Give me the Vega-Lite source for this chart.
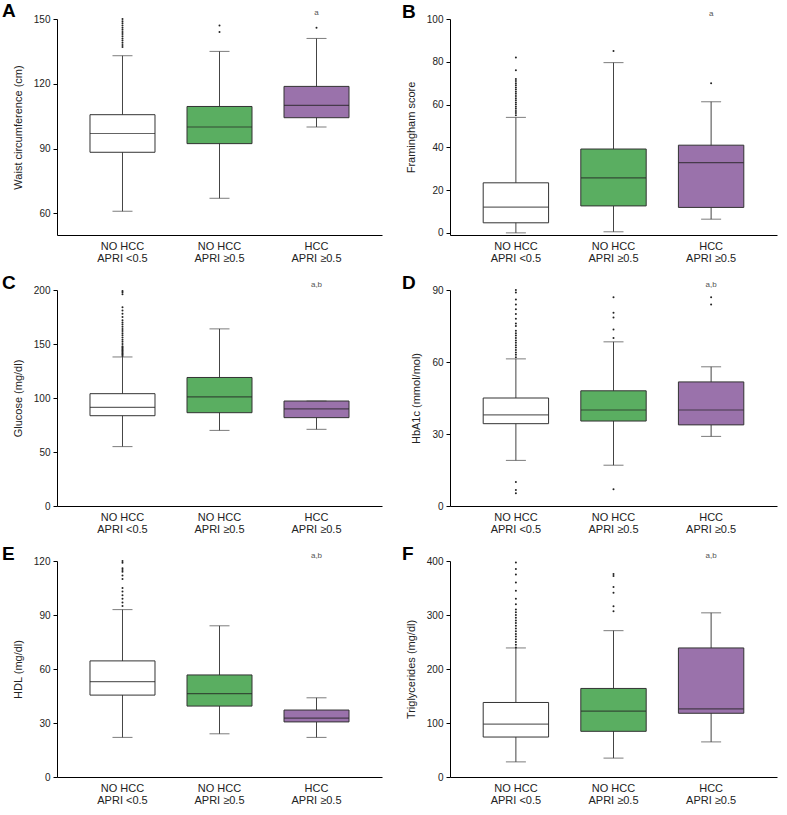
{
  "$schema": "https://vega.github.io/schema/vega-lite/v6.json",
  "background": "white",
  "padding": {"left": 2, "top": 2, "right": 5, "bottom": 5},
  "bounds": "flush",
  "columns": 2,
  "spacing": {"row": 55, "column": 68},
  "datasets": {
    "box": [
      {"panel": "A", "group": "NO HCC|APRI <0.5", "lo": 61, "q1": 88.3, "med": 97, "q3": 105.7, "hi": 133},
      {"panel": "A", "group": "NO HCC|APRI ≥0.5", "lo": 67, "q1": 92.3, "med": 100, "q3": 109.5, "hi": 135},
      {"panel": "A", "group": "HCC|APRI ≥0.5", "lo": 100, "q1": 104.3, "med": 110, "q3": 118.8, "hi": 141},
      {"panel": "B", "group": "NO HCC|APRI <0.5", "lo": 0, "q1": 4.7, "med": 12, "q3": 23.4, "hi": 54},
      {"panel": "B", "group": "NO HCC|APRI ≥0.5", "lo": 0.5, "q1": 12.6, "med": 25.7, "q3": 39.2, "hi": 79.6},
      {"panel": "B", "group": "HCC|APRI ≥0.5", "lo": 6.4, "q1": 11.9, "med": 32.8, "q3": 41, "hi": 61.3},
      {"panel": "C", "group": "NO HCC|APRI <0.5", "lo": 55, "q1": 83.6, "med": 91.4, "q3": 104, "hi": 138},
      {"panel": "C", "group": "NO HCC|APRI ≥0.5", "lo": 70, "q1": 86.4, "med": 101, "q3": 119, "hi": 164},
      {"panel": "C", "group": "HCC|APRI ≥0.5", "lo": 71, "q1": 81.8, "med": 90, "q3": 97.2, "hi": 97.2},
      {"panel": "D", "group": "NO HCC|APRI <0.5", "lo": 19, "q1": 34.3, "med": 38, "q3": 45, "hi": 61.3},
      {"panel": "D", "group": "NO HCC|APRI ≥0.5", "lo": 17, "q1": 35.4, "med": 40, "q3": 48, "hi": 68.4},
      {"panel": "D", "group": "HCC|APRI ≥0.5", "lo": 29, "q1": 33.8, "med": 40, "q3": 51.7, "hi": 58},
      {"panel": "E", "group": "NO HCC|APRI <0.5", "lo": 22, "q1": 45.5, "med": 53, "q3": 64.5, "hi": 93},
      {"panel": "E", "group": "NO HCC|APRI ≥0.5", "lo": 24, "q1": 39.4, "med": 46.3, "q3": 56.7, "hi": 84},
      {"panel": "E", "group": "HCC|APRI ≥0.5", "lo": 22, "q1": 30.6, "med": 32.7, "q3": 37.2, "hi": 44},
      {"panel": "F", "group": "NO HCC|APRI <0.5", "lo": 28, "q1": 74, "med": 98, "q3": 138, "hi": 239},
      {"panel": "F", "group": "NO HCC|APRI ≥0.5", "lo": 35, "q1": 84.6, "med": 122, "q3": 164, "hi": 271},
      {"panel": "F", "group": "HCC|APRI ≥0.5", "lo": 65, "q1": 118, "med": 126, "q3": 239, "hi": 304}
    ],
    "out": [
      {"panel": "A", "group": "NO HCC|APRI <0.5", "v": 137}, {"panel": "A", "group": "NO HCC|APRI <0.5", "v": 138},
      {"panel": "A", "group": "NO HCC|APRI <0.5", "v": 139}, {"panel": "A", "group": "NO HCC|APRI <0.5", "v": 140},
      {"panel": "A", "group": "NO HCC|APRI <0.5", "v": 141}, {"panel": "A", "group": "NO HCC|APRI <0.5", "v": 142},
      {"panel": "A", "group": "NO HCC|APRI <0.5", "v": 143}, {"panel": "A", "group": "NO HCC|APRI <0.5", "v": 144},
      {"panel": "A", "group": "NO HCC|APRI <0.5", "v": 145}, {"panel": "A", "group": "NO HCC|APRI <0.5", "v": 146},
      {"panel": "A", "group": "NO HCC|APRI <0.5", "v": 147}, {"panel": "A", "group": "NO HCC|APRI <0.5", "v": 148},
      {"panel": "A", "group": "NO HCC|APRI <0.5", "v": 149}, {"panel": "A", "group": "NO HCC|APRI <0.5", "v": 150},
      {"panel": "A", "group": "NO HCC|APRI ≥0.5", "v": 144}, {"panel": "A", "group": "NO HCC|APRI ≥0.5", "v": 147},
      {"panel": "A", "group": "HCC|APRI ≥0.5", "v": 146},
      {"panel": "B", "group": "NO HCC|APRI <0.5", "v": 55}, {"panel": "B", "group": "NO HCC|APRI <0.5", "v": 56},
      {"panel": "B", "group": "NO HCC|APRI <0.5", "v": 57}, {"panel": "B", "group": "NO HCC|APRI <0.5", "v": 58},
      {"panel": "B", "group": "NO HCC|APRI <0.5", "v": 59}, {"panel": "B", "group": "NO HCC|APRI <0.5", "v": 60},
      {"panel": "B", "group": "NO HCC|APRI <0.5", "v": 61}, {"panel": "B", "group": "NO HCC|APRI <0.5", "v": 62},
      {"panel": "B", "group": "NO HCC|APRI <0.5", "v": 63}, {"panel": "B", "group": "NO HCC|APRI <0.5", "v": 64},
      {"panel": "B", "group": "NO HCC|APRI <0.5", "v": 65}, {"panel": "B", "group": "NO HCC|APRI <0.5", "v": 66},
      {"panel": "B", "group": "NO HCC|APRI <0.5", "v": 67}, {"panel": "B", "group": "NO HCC|APRI <0.5", "v": 68},
      {"panel": "B", "group": "NO HCC|APRI <0.5", "v": 69}, {"panel": "B", "group": "NO HCC|APRI <0.5", "v": 70},
      {"panel": "B", "group": "NO HCC|APRI <0.5", "v": 71}, {"panel": "B", "group": "NO HCC|APRI <0.5", "v": 72},
      {"panel": "B", "group": "NO HCC|APRI <0.5", "v": 76}, {"panel": "B", "group": "NO HCC|APRI <0.5", "v": 82},
      {"panel": "B", "group": "NO HCC|APRI ≥0.5", "v": 85},
      {"panel": "B", "group": "HCC|APRI ≥0.5", "v": 70},
      {"panel": "C", "group": "NO HCC|APRI <0.5", "v": 139}, {"panel": "C", "group": "NO HCC|APRI <0.5", "v": 140},
      {"panel": "C", "group": "NO HCC|APRI <0.5", "v": 141}, {"panel": "C", "group": "NO HCC|APRI <0.5", "v": 142},
      {"panel": "C", "group": "NO HCC|APRI <0.5", "v": 143}, {"panel": "C", "group": "NO HCC|APRI <0.5", "v": 144},
      {"panel": "C", "group": "NO HCC|APRI <0.5", "v": 145}, {"panel": "C", "group": "NO HCC|APRI <0.5", "v": 146},
      {"panel": "C", "group": "NO HCC|APRI <0.5", "v": 147}, {"panel": "C", "group": "NO HCC|APRI <0.5", "v": 148},
      {"panel": "C", "group": "NO HCC|APRI <0.5", "v": 150}, {"panel": "C", "group": "NO HCC|APRI <0.5", "v": 152},
      {"panel": "C", "group": "NO HCC|APRI <0.5", "v": 154}, {"panel": "C", "group": "NO HCC|APRI <0.5", "v": 156},
      {"panel": "C", "group": "NO HCC|APRI <0.5", "v": 158}, {"panel": "C", "group": "NO HCC|APRI <0.5", "v": 160},
      {"panel": "C", "group": "NO HCC|APRI <0.5", "v": 162}, {"panel": "C", "group": "NO HCC|APRI <0.5", "v": 164},
      {"panel": "C", "group": "NO HCC|APRI <0.5", "v": 166}, {"panel": "C", "group": "NO HCC|APRI <0.5", "v": 168},
      {"panel": "C", "group": "NO HCC|APRI <0.5", "v": 170}, {"panel": "C", "group": "NO HCC|APRI <0.5", "v": 172},
      {"panel": "C", "group": "NO HCC|APRI <0.5", "v": 175}, {"panel": "C", "group": "NO HCC|APRI <0.5", "v": 178},
      {"panel": "C", "group": "NO HCC|APRI <0.5", "v": 181}, {"panel": "C", "group": "NO HCC|APRI <0.5", "v": 184},
      {"panel": "C", "group": "NO HCC|APRI <0.5", "v": 196}, {"panel": "C", "group": "NO HCC|APRI <0.5", "v": 198},
      {"panel": "C", "group": "NO HCC|APRI <0.5", "v": 199},
      {"panel": "D", "group": "NO HCC|APRI <0.5", "v": 62}, {"panel": "D", "group": "NO HCC|APRI <0.5", "v": 63},
      {"panel": "D", "group": "NO HCC|APRI <0.5", "v": 64}, {"panel": "D", "group": "NO HCC|APRI <0.5", "v": 65},
      {"panel": "D", "group": "NO HCC|APRI <0.5", "v": 66}, {"panel": "D", "group": "NO HCC|APRI <0.5", "v": 67},
      {"panel": "D", "group": "NO HCC|APRI <0.5", "v": 68}, {"panel": "D", "group": "NO HCC|APRI <0.5", "v": 69},
      {"panel": "D", "group": "NO HCC|APRI <0.5", "v": 70}, {"panel": "D", "group": "NO HCC|APRI <0.5", "v": 71},
      {"panel": "D", "group": "NO HCC|APRI <0.5", "v": 72}, {"panel": "D", "group": "NO HCC|APRI <0.5", "v": 73},
      {"panel": "D", "group": "NO HCC|APRI <0.5", "v": 75}, {"panel": "D", "group": "NO HCC|APRI <0.5", "v": 76},
      {"panel": "D", "group": "NO HCC|APRI <0.5", "v": 78}, {"panel": "D", "group": "NO HCC|APRI <0.5", "v": 80},
      {"panel": "D", "group": "NO HCC|APRI <0.5", "v": 82}, {"panel": "D", "group": "NO HCC|APRI <0.5", "v": 84},
      {"panel": "D", "group": "NO HCC|APRI <0.5", "v": 86}, {"panel": "D", "group": "NO HCC|APRI <0.5", "v": 89},
      {"panel": "D", "group": "NO HCC|APRI <0.5", "v": 90}, {"panel": "D", "group": "NO HCC|APRI <0.5", "v": 10},
      {"panel": "D", "group": "NO HCC|APRI <0.5", "v": 6.7}, {"panel": "D", "group": "NO HCC|APRI <0.5", "v": 5.3},
      {"panel": "D", "group": "NO HCC|APRI ≥0.5", "v": 70}, {"panel": "D", "group": "NO HCC|APRI ≥0.5", "v": 73.5},
      {"panel": "D", "group": "NO HCC|APRI ≥0.5", "v": 78.5}, {"panel": "D", "group": "NO HCC|APRI ≥0.5", "v": 80.5},
      {"panel": "D", "group": "NO HCC|APRI ≥0.5", "v": 87}, {"panel": "D", "group": "NO HCC|APRI ≥0.5", "v": 7},
      {"panel": "D", "group": "HCC|APRI ≥0.5", "v": 84}, {"panel": "D", "group": "HCC|APRI ≥0.5", "v": 87},
      {"panel": "E", "group": "NO HCC|APRI <0.5", "v": 95}, {"panel": "E", "group": "NO HCC|APRI <0.5", "v": 97},
      {"panel": "E", "group": "NO HCC|APRI <0.5", "v": 99}, {"panel": "E", "group": "NO HCC|APRI <0.5", "v": 101},
      {"panel": "E", "group": "NO HCC|APRI <0.5", "v": 103}, {"panel": "E", "group": "NO HCC|APRI <0.5", "v": 105},
      {"panel": "E", "group": "NO HCC|APRI <0.5", "v": 110}, {"panel": "E", "group": "NO HCC|APRI <0.5", "v": 112},
      {"panel": "E", "group": "NO HCC|APRI <0.5", "v": 114}, {"panel": "E", "group": "NO HCC|APRI <0.5", "v": 115},
      {"panel": "E", "group": "NO HCC|APRI <0.5", "v": 116}, {"panel": "E", "group": "NO HCC|APRI <0.5", "v": 119},
      {"panel": "E", "group": "NO HCC|APRI <0.5", "v": 120},
      {"panel": "F", "group": "NO HCC|APRI <0.5", "v": 240}, {"panel": "F", "group": "NO HCC|APRI <0.5", "v": 245},
      {"panel": "F", "group": "NO HCC|APRI <0.5", "v": 250}, {"panel": "F", "group": "NO HCC|APRI <0.5", "v": 255},
      {"panel": "F", "group": "NO HCC|APRI <0.5", "v": 260}, {"panel": "F", "group": "NO HCC|APRI <0.5", "v": 265},
      {"panel": "F", "group": "NO HCC|APRI <0.5", "v": 270}, {"panel": "F", "group": "NO HCC|APRI <0.5", "v": 275},
      {"panel": "F", "group": "NO HCC|APRI <0.5", "v": 280}, {"panel": "F", "group": "NO HCC|APRI <0.5", "v": 285},
      {"panel": "F", "group": "NO HCC|APRI <0.5", "v": 290}, {"panel": "F", "group": "NO HCC|APRI <0.5", "v": 295},
      {"panel": "F", "group": "NO HCC|APRI <0.5", "v": 300}, {"panel": "F", "group": "NO HCC|APRI <0.5", "v": 305},
      {"panel": "F", "group": "NO HCC|APRI <0.5", "v": 310}, {"panel": "F", "group": "NO HCC|APRI <0.5", "v": 320},
      {"panel": "F", "group": "NO HCC|APRI <0.5", "v": 330}, {"panel": "F", "group": "NO HCC|APRI <0.5", "v": 345},
      {"panel": "F", "group": "NO HCC|APRI <0.5", "v": 360}, {"panel": "F", "group": "NO HCC|APRI <0.5", "v": 375},
      {"panel": "F", "group": "NO HCC|APRI <0.5", "v": 385}, {"panel": "F", "group": "NO HCC|APRI <0.5", "v": 397},
      {"panel": "F", "group": "NO HCC|APRI ≥0.5", "v": 307}, {"panel": "F", "group": "NO HCC|APRI ≥0.5", "v": 316},
      {"panel": "F", "group": "NO HCC|APRI ≥0.5", "v": 341}, {"panel": "F", "group": "NO HCC|APRI ≥0.5", "v": 352},
      {"panel": "F", "group": "NO HCC|APRI ≥0.5", "v": 372}, {"panel": "F", "group": "NO HCC|APRI ≥0.5", "v": 376}
    ],
    "ann": [
      {"panel": "A", "group": "HCC|APRI ≥0.5", "label": "a", "y": 150},
      {"panel": "B", "group": "HCC|APRI ≥0.5", "label": "a", "y": 100},
      {"panel": "C", "group": "HCC|APRI ≥0.5", "label": "a,b", "y": 200},
      {"panel": "D", "group": "HCC|APRI ≥0.5", "label": "a,b", "y": 90},
      {"panel": "E", "group": "HCC|APRI ≥0.5", "label": "a,b", "y": 120},
      {"panel": "F", "group": "HCC|APRI ≥0.5", "label": "a,b", "y": 400}
    ]
  },
  "concat": [
    {
      "title": {"text": "A", "dx": -55},
      "width": 325, "height": 216,
      "layer": [
        {"data": {"name": "box"}, "transform": [{"filter": "datum.panel === 'A'"}],
         "mark": {"type": "rule", "color": "#444", "strokeWidth": 1},
         "encoding": {"x": {"field": "group", "type": "nominal", "sort": ["NO HCC|APRI <0.5", "NO HCC|APRI ≥0.5", "HCC|APRI ≥0.5"], "scale": {"domain": ["NO HCC|APRI <0.5", "NO HCC|APRI ≥0.5", "HCC|APRI ≥0.5"], "paddingInner": 0.33, "paddingOuter": 0.34}},
           "y": {"field": "lo", "type": "quantitative", "title": "Waist circumference (cm)", "scale": {"domain": [50, 150], "nice": false, "zero": false}, "axis": {"values": [60, 90, 120, 150]}},
           "y2": {"field": "hi"}}},
        {"data": {"name": "box"}, "transform": [{"filter": "datum.panel === 'A'"}],
         "mark": {"type": "bar", "stroke": "#333", "strokeWidth": 1},
         "encoding": {"x": {"field": "group", "type": "nominal"},
           "y": {"field": "q1", "type": "quantitative", "title": "Waist circumference (cm)", "scale": {"domain": [50, 150], "nice": false, "zero": false}},
           "y2": {"field": "q3"},
           "fill": {"field": "group", "type": "nominal", "scale": {"domain": ["NO HCC|APRI <0.5", "NO HCC|APRI ≥0.5", "HCC|APRI ≥0.5"], "range": ["#ffffff", "#5aae61", "#9a72ab"]}, "legend": null}}},
        {"data": {"name": "box"}, "transform": [{"filter": "datum.panel === 'A'"}],
         "mark": {"type": "tick", "color": "#222", "size": 65, "thickness": 1.2},
         "encoding": {"x": {"field": "group", "type": "nominal"}, "y": {"field": "med", "type": "quantitative", "title": "Waist circumference (cm)", "scale": {"domain": [50, 150], "nice": false, "zero": false}}}},
        {"data": {"name": "box"}, "transform": [{"filter": "datum.panel === 'A'"}],
         "mark": {"type": "tick", "color": "#444", "size": 20, "thickness": 1},
         "encoding": {"x": {"field": "group", "type": "nominal"}, "y": {"field": "lo", "type": "quantitative", "title": "Waist circumference (cm)", "scale": {"domain": [50, 150], "nice": false, "zero": false}}}},
        {"data": {"name": "box"}, "transform": [{"filter": "datum.panel === 'A'"}],
         "mark": {"type": "tick", "color": "#444", "size": 20, "thickness": 1},
         "encoding": {"x": {"field": "group", "type": "nominal"}, "y": {"field": "hi", "type": "quantitative", "title": "Waist circumference (cm)", "scale": {"domain": [50, 150], "nice": false, "zero": false}}}},
        {"data": {"name": "out"}, "transform": [{"filter": "datum.panel === 'A'"}],
         "mark": {"type": "point", "filled": true, "color": "#222", "size": 4, "opacity": 1},
         "encoding": {"x": {"field": "group", "type": "nominal"}, "y": {"field": "v", "type": "quantitative", "title": "Waist circumference (cm)", "scale": {"domain": [50, 150], "nice": false, "zero": false}}}},
        {"data": {"name": "ann"}, "transform": [{"filter": "datum.panel === 'A'"}],
         "mark": {"type": "text", "fontSize": 8, "color": "#555", "baseline": "alphabetic", "dy": -4, "font": "Liberation Sans"},
         "encoding": {"x": {"field": "group", "type": "nominal"}, "y": {"field": "y", "type": "quantitative", "title": "Waist circumference (cm)", "scale": {"domain": [50, 150], "nice": false, "zero": false}}, "text": {"field": "label"}}}
      ]
    },
    {
      "title": {"text": "B", "dx": -48},
      "width": 327, "height": 216,
      "layer": [
        {"data": {"name": "box"}, "transform": [{"filter": "datum.panel === 'B'"}],
         "mark": {"type": "rule", "color": "#444", "strokeWidth": 1},
         "encoding": {"x": {"field": "group", "type": "nominal", "sort": ["NO HCC|APRI <0.5", "NO HCC|APRI ≥0.5", "HCC|APRI ≥0.5"], "scale": {"domain": ["NO HCC|APRI <0.5", "NO HCC|APRI ≥0.5", "HCC|APRI ≥0.5"], "paddingInner": 0.33, "paddingOuter": 0.34}},
           "y": {"field": "lo", "type": "quantitative", "title": "Framingham score", "scale": {"domain": [-1, 100], "nice": false, "zero": false}, "axis": {"values": [0, 20, 40, 60, 80, 100]}},
           "y2": {"field": "hi"}}},
        {"data": {"name": "box"}, "transform": [{"filter": "datum.panel === 'B'"}],
         "mark": {"type": "bar", "stroke": "#333", "strokeWidth": 1},
         "encoding": {"x": {"field": "group", "type": "nominal"},
           "y": {"field": "q1", "type": "quantitative", "title": "Framingham score", "scale": {"domain": [-1, 100], "nice": false, "zero": false}},
           "y2": {"field": "q3"},
           "fill": {"field": "group", "type": "nominal", "scale": {"domain": ["NO HCC|APRI <0.5", "NO HCC|APRI ≥0.5", "HCC|APRI ≥0.5"], "range": ["#ffffff", "#5aae61", "#9a72ab"]}, "legend": null}}},
        {"data": {"name": "box"}, "transform": [{"filter": "datum.panel === 'B'"}],
         "mark": {"type": "tick", "color": "#222", "size": 65, "thickness": 1.2},
         "encoding": {"x": {"field": "group", "type": "nominal"}, "y": {"field": "med", "type": "quantitative", "title": "Framingham score", "scale": {"domain": [-1, 100], "nice": false, "zero": false}}}},
        {"data": {"name": "box"}, "transform": [{"filter": "datum.panel === 'B'"}],
         "mark": {"type": "tick", "color": "#444", "size": 20, "thickness": 1},
         "encoding": {"x": {"field": "group", "type": "nominal"}, "y": {"field": "lo", "type": "quantitative", "title": "Framingham score", "scale": {"domain": [-1, 100], "nice": false, "zero": false}}}},
        {"data": {"name": "box"}, "transform": [{"filter": "datum.panel === 'B'"}],
         "mark": {"type": "tick", "color": "#444", "size": 20, "thickness": 1},
         "encoding": {"x": {"field": "group", "type": "nominal"}, "y": {"field": "hi", "type": "quantitative", "title": "Framingham score", "scale": {"domain": [-1, 100], "nice": false, "zero": false}}}},
        {"data": {"name": "out"}, "transform": [{"filter": "datum.panel === 'B'"}],
         "mark": {"type": "point", "filled": true, "color": "#222", "size": 4, "opacity": 1},
         "encoding": {"x": {"field": "group", "type": "nominal"}, "y": {"field": "v", "type": "quantitative", "title": "Framingham score", "scale": {"domain": [-1, 100], "nice": false, "zero": false}}}},
        {"data": {"name": "ann"}, "transform": [{"filter": "datum.panel === 'B'"}],
         "mark": {"type": "text", "fontSize": 8, "color": "#555", "baseline": "alphabetic", "dy": -3, "font": "Liberation Sans"},
         "encoding": {"x": {"field": "group", "type": "nominal"}, "y": {"field": "y", "type": "quantitative", "title": "Framingham score", "scale": {"domain": [-1, 100], "nice": false, "zero": false}}, "text": {"field": "label"}}}
      ]
    },
    {
      "title": {"text": "C", "dx": -55},
      "width": 325, "height": 216,
      "layer": [
        {"data": {"name": "box"}, "transform": [{"filter": "datum.panel === 'C'"}],
         "mark": {"type": "rule", "color": "#444", "strokeWidth": 1},
         "encoding": {"x": {"field": "group", "type": "nominal", "sort": ["NO HCC|APRI <0.5", "NO HCC|APRI ≥0.5", "HCC|APRI ≥0.5"], "scale": {"domain": ["NO HCC|APRI <0.5", "NO HCC|APRI ≥0.5", "HCC|APRI ≥0.5"], "paddingInner": 0.33, "paddingOuter": 0.34}},
           "y": {"field": "lo", "type": "quantitative", "title": "Glucose (mg/dl)", "scale": {"domain": [0, 200], "nice": false}, "axis": {"values": [0, 50, 100, 150, 200]}},
           "y2": {"field": "hi"}}},
        {"data": {"name": "box"}, "transform": [{"filter": "datum.panel === 'C'"}],
         "mark": {"type": "bar", "stroke": "#333", "strokeWidth": 1},
         "encoding": {"x": {"field": "group", "type": "nominal"},
           "y": {"field": "q1", "type": "quantitative", "title": "Glucose (mg/dl)", "scale": {"domain": [0, 200], "nice": false}},
           "y2": {"field": "q3"},
           "fill": {"field": "group", "type": "nominal", "scale": {"domain": ["NO HCC|APRI <0.5", "NO HCC|APRI ≥0.5", "HCC|APRI ≥0.5"], "range": ["#ffffff", "#5aae61", "#9a72ab"]}, "legend": null}}},
        {"data": {"name": "box"}, "transform": [{"filter": "datum.panel === 'C'"}],
         "mark": {"type": "tick", "color": "#222", "size": 65, "thickness": 1.2},
         "encoding": {"x": {"field": "group", "type": "nominal"}, "y": {"field": "med", "type": "quantitative", "title": "Glucose (mg/dl)", "scale": {"domain": [0, 200], "nice": false}}}},
        {"data": {"name": "box"}, "transform": [{"filter": "datum.panel === 'C'"}],
         "mark": {"type": "tick", "color": "#444", "size": 20, "thickness": 1},
         "encoding": {"x": {"field": "group", "type": "nominal"}, "y": {"field": "lo", "type": "quantitative", "title": "Glucose (mg/dl)", "scale": {"domain": [0, 200], "nice": false}}}},
        {"data": {"name": "box"}, "transform": [{"filter": "datum.panel === 'C'"}],
         "mark": {"type": "tick", "color": "#444", "size": 20, "thickness": 1},
         "encoding": {"x": {"field": "group", "type": "nominal"}, "y": {"field": "hi", "type": "quantitative", "title": "Glucose (mg/dl)", "scale": {"domain": [0, 200], "nice": false}}}},
        {"data": {"name": "out"}, "transform": [{"filter": "datum.panel === 'C'"}],
         "mark": {"type": "point", "filled": true, "color": "#222", "size": 4, "opacity": 1},
         "encoding": {"x": {"field": "group", "type": "nominal"}, "y": {"field": "v", "type": "quantitative", "title": "Glucose (mg/dl)", "scale": {"domain": [0, 200], "nice": false}}}},
        {"data": {"name": "ann"}, "transform": [{"filter": "datum.panel === 'C'"}],
         "mark": {"type": "text", "fontSize": 8, "color": "#555", "baseline": "alphabetic", "dy": -3, "font": "Liberation Sans"},
         "encoding": {"x": {"field": "group", "type": "nominal"}, "y": {"field": "y", "type": "quantitative", "title": "Glucose (mg/dl)", "scale": {"domain": [0, 200], "nice": false}}, "text": {"field": "label"}}}
      ]
    },
    {
      "title": {"text": "D", "dx": -48},
      "width": 327, "height": 216,
      "layer": [
        {"data": {"name": "box"}, "transform": [{"filter": "datum.panel === 'D'"}],
         "mark": {"type": "rule", "color": "#444", "strokeWidth": 1},
         "encoding": {"x": {"field": "group", "type": "nominal", "sort": ["NO HCC|APRI <0.5", "NO HCC|APRI ≥0.5", "HCC|APRI ≥0.5"], "scale": {"domain": ["NO HCC|APRI <0.5", "NO HCC|APRI ≥0.5", "HCC|APRI ≥0.5"], "paddingInner": 0.33, "paddingOuter": 0.34}},
           "y": {"field": "lo", "type": "quantitative", "title": "HbA1c (mmol/mol)", "scale": {"domain": [0, 90], "nice": false}, "axis": {"values": [0, 30, 60, 90]}},
           "y2": {"field": "hi"}}},
        {"data": {"name": "box"}, "transform": [{"filter": "datum.panel === 'D'"}],
         "mark": {"type": "bar", "stroke": "#333", "strokeWidth": 1},
         "encoding": {"x": {"field": "group", "type": "nominal"},
           "y": {"field": "q1", "type": "quantitative", "title": "HbA1c (mmol/mol)", "scale": {"domain": [0, 90], "nice": false}},
           "y2": {"field": "q3"},
           "fill": {"field": "group", "type": "nominal", "scale": {"domain": ["NO HCC|APRI <0.5", "NO HCC|APRI ≥0.5", "HCC|APRI ≥0.5"], "range": ["#ffffff", "#5aae61", "#9a72ab"]}, "legend": null}}},
        {"data": {"name": "box"}, "transform": [{"filter": "datum.panel === 'D'"}],
         "mark": {"type": "tick", "color": "#222", "size": 65, "thickness": 1.2},
         "encoding": {"x": {"field": "group", "type": "nominal"}, "y": {"field": "med", "type": "quantitative", "title": "HbA1c (mmol/mol)", "scale": {"domain": [0, 90], "nice": false}}}},
        {"data": {"name": "box"}, "transform": [{"filter": "datum.panel === 'D'"}],
         "mark": {"type": "tick", "color": "#444", "size": 20, "thickness": 1},
         "encoding": {"x": {"field": "group", "type": "nominal"}, "y": {"field": "lo", "type": "quantitative", "title": "HbA1c (mmol/mol)", "scale": {"domain": [0, 90], "nice": false}}}},
        {"data": {"name": "box"}, "transform": [{"filter": "datum.panel === 'D'"}],
         "mark": {"type": "tick", "color": "#444", "size": 20, "thickness": 1},
         "encoding": {"x": {"field": "group", "type": "nominal"}, "y": {"field": "hi", "type": "quantitative", "title": "HbA1c (mmol/mol)", "scale": {"domain": [0, 90], "nice": false}}}},
        {"data": {"name": "out"}, "transform": [{"filter": "datum.panel === 'D'"}],
         "mark": {"type": "point", "filled": true, "color": "#222", "size": 4, "opacity": 1},
         "encoding": {"x": {"field": "group", "type": "nominal"}, "y": {"field": "v", "type": "quantitative", "title": "HbA1c (mmol/mol)", "scale": {"domain": [0, 90], "nice": false}}}},
        {"data": {"name": "ann"}, "transform": [{"filter": "datum.panel === 'D'"}],
         "mark": {"type": "text", "fontSize": 8, "color": "#555", "baseline": "alphabetic", "dy": -3, "font": "Liberation Sans"},
         "encoding": {"x": {"field": "group", "type": "nominal"}, "y": {"field": "y", "type": "quantitative", "title": "HbA1c (mmol/mol)", "scale": {"domain": [0, 90], "nice": false}}, "text": {"field": "label"}}}
      ]
    },
    {
      "title": {"text": "E", "dx": -55},
      "width": 325, "height": 216,
      "layer": [
        {"data": {"name": "box"}, "transform": [{"filter": "datum.panel === 'E'"}],
         "mark": {"type": "rule", "color": "#444", "strokeWidth": 1},
         "encoding": {"x": {"field": "group", "type": "nominal", "sort": ["NO HCC|APRI <0.5", "NO HCC|APRI ≥0.5", "HCC|APRI ≥0.5"], "scale": {"domain": ["NO HCC|APRI <0.5", "NO HCC|APRI ≥0.5", "HCC|APRI ≥0.5"], "paddingInner": 0.33, "paddingOuter": 0.34}},
           "y": {"field": "lo", "type": "quantitative", "title": "HDL (mg/dl)", "scale": {"domain": [0, 120], "nice": false}, "axis": {"values": [0, 30, 60, 90, 120]}},
           "y2": {"field": "hi"}}},
        {"data": {"name": "box"}, "transform": [{"filter": "datum.panel === 'E'"}],
         "mark": {"type": "bar", "stroke": "#333", "strokeWidth": 1},
         "encoding": {"x": {"field": "group", "type": "nominal"},
           "y": {"field": "q1", "type": "quantitative", "title": "HDL (mg/dl)", "scale": {"domain": [0, 120], "nice": false}},
           "y2": {"field": "q3"},
           "fill": {"field": "group", "type": "nominal", "scale": {"domain": ["NO HCC|APRI <0.5", "NO HCC|APRI ≥0.5", "HCC|APRI ≥0.5"], "range": ["#ffffff", "#5aae61", "#9a72ab"]}, "legend": null}}},
        {"data": {"name": "box"}, "transform": [{"filter": "datum.panel === 'E'"}],
         "mark": {"type": "tick", "color": "#222", "size": 65, "thickness": 1.2},
         "encoding": {"x": {"field": "group", "type": "nominal"}, "y": {"field": "med", "type": "quantitative", "title": "HDL (mg/dl)", "scale": {"domain": [0, 120], "nice": false}}}},
        {"data": {"name": "box"}, "transform": [{"filter": "datum.panel === 'E'"}],
         "mark": {"type": "tick", "color": "#444", "size": 20, "thickness": 1},
         "encoding": {"x": {"field": "group", "type": "nominal"}, "y": {"field": "lo", "type": "quantitative", "title": "HDL (mg/dl)", "scale": {"domain": [0, 120], "nice": false}}}},
        {"data": {"name": "box"}, "transform": [{"filter": "datum.panel === 'E'"}],
         "mark": {"type": "tick", "color": "#444", "size": 20, "thickness": 1},
         "encoding": {"x": {"field": "group", "type": "nominal"}, "y": {"field": "hi", "type": "quantitative", "title": "HDL (mg/dl)", "scale": {"domain": [0, 120], "nice": false}}}},
        {"data": {"name": "out"}, "transform": [{"filter": "datum.panel === 'E'"}],
         "mark": {"type": "point", "filled": true, "color": "#222", "size": 4, "opacity": 1},
         "encoding": {"x": {"field": "group", "type": "nominal"}, "y": {"field": "v", "type": "quantitative", "title": "HDL (mg/dl)", "scale": {"domain": [0, 120], "nice": false}}}},
        {"data": {"name": "ann"}, "transform": [{"filter": "datum.panel === 'E'"}],
         "mark": {"type": "text", "fontSize": 8, "color": "#555", "baseline": "alphabetic", "dy": -3, "font": "Liberation Sans"},
         "encoding": {"x": {"field": "group", "type": "nominal"}, "y": {"field": "y", "type": "quantitative", "title": "HDL (mg/dl)", "scale": {"domain": [0, 120], "nice": false}}, "text": {"field": "label"}}}
      ]
    },
    {
      "title": {"text": "F", "dx": -48},
      "width": 327, "height": 216,
      "layer": [
        {"data": {"name": "box"}, "transform": [{"filter": "datum.panel === 'F'"}],
         "mark": {"type": "rule", "color": "#444", "strokeWidth": 1},
         "encoding": {"x": {"field": "group", "type": "nominal", "sort": ["NO HCC|APRI <0.5", "NO HCC|APRI ≥0.5", "HCC|APRI ≥0.5"], "scale": {"domain": ["NO HCC|APRI <0.5", "NO HCC|APRI ≥0.5", "HCC|APRI ≥0.5"], "paddingInner": 0.33, "paddingOuter": 0.34}},
           "y": {"field": "lo", "type": "quantitative", "title": "Triglycerides (mg/dl)", "scale": {"domain": [0, 400], "nice": false}, "axis": {"values": [0, 100, 200, 300, 400]}},
           "y2": {"field": "hi"}}},
        {"data": {"name": "box"}, "transform": [{"filter": "datum.panel === 'F'"}],
         "mark": {"type": "bar", "stroke": "#333", "strokeWidth": 1},
         "encoding": {"x": {"field": "group", "type": "nominal"},
           "y": {"field": "q1", "type": "quantitative", "title": "Triglycerides (mg/dl)", "scale": {"domain": [0, 400], "nice": false}},
           "y2": {"field": "q3"},
           "fill": {"field": "group", "type": "nominal", "scale": {"domain": ["NO HCC|APRI <0.5", "NO HCC|APRI ≥0.5", "HCC|APRI ≥0.5"], "range": ["#ffffff", "#5aae61", "#9a72ab"]}, "legend": null}}},
        {"data": {"name": "box"}, "transform": [{"filter": "datum.panel === 'F'"}],
         "mark": {"type": "tick", "color": "#222", "size": 65, "thickness": 1.2},
         "encoding": {"x": {"field": "group", "type": "nominal"}, "y": {"field": "med", "type": "quantitative", "title": "Triglycerides (mg/dl)", "scale": {"domain": [0, 400], "nice": false}}}},
        {"data": {"name": "box"}, "transform": [{"filter": "datum.panel === 'F'"}],
         "mark": {"type": "tick", "color": "#444", "size": 20, "thickness": 1},
         "encoding": {"x": {"field": "group", "type": "nominal"}, "y": {"field": "lo", "type": "quantitative", "title": "Triglycerides (mg/dl)", "scale": {"domain": [0, 400], "nice": false}}}},
        {"data": {"name": "box"}, "transform": [{"filter": "datum.panel === 'F'"}],
         "mark": {"type": "tick", "color": "#444", "size": 20, "thickness": 1},
         "encoding": {"x": {"field": "group", "type": "nominal"}, "y": {"field": "hi", "type": "quantitative", "title": "Triglycerides (mg/dl)", "scale": {"domain": [0, 400], "nice": false}}}},
        {"data": {"name": "out"}, "transform": [{"filter": "datum.panel === 'F'"}],
         "mark": {"type": "point", "filled": true, "color": "#222", "size": 4, "opacity": 1},
         "encoding": {"x": {"field": "group", "type": "nominal"}, "y": {"field": "v", "type": "quantitative", "title": "Triglycerides (mg/dl)", "scale": {"domain": [0, 400], "nice": false}}}},
        {"data": {"name": "ann"}, "transform": [{"filter": "datum.panel === 'F'"}],
         "mark": {"type": "text", "fontSize": 8, "color": "#555", "baseline": "alphabetic", "dy": -3, "font": "Liberation Sans"},
         "encoding": {"x": {"field": "group", "type": "nominal"}, "y": {"field": "y", "type": "quantitative", "title": "Triglycerides (mg/dl)", "scale": {"domain": [0, 400], "nice": false}}, "text": {"field": "label"}}}
      ]
    }
  ],
  "config": {
    "view": {"stroke": null},
    "font": "Liberation Sans",
    "title": {"anchor": "start", "frame": "group", "fontSize": 19, "fontWeight": "bold", "font": "Liberation Sans", "color": "#000", "offset": 0, "baseline": "alphabetic", "dy": 16},
    "axis": {"grid": false, "domainColor": "#000", "domainWidth": 1, "labelFont": "Liberation Sans", "titleFont": "Liberation Sans", "labelColor": "#222", "titleColor": "#222", "titleFontWeight": "normal"},
    "axisX": {"title": null, "ticks": false, "labelAngle": 0, "labelFontSize": 11, "labelLineHeight": 12.5, "labelPadding": 5, "labelExpr": "split(datum.label, '|')"},
    "axisY": {"tickSize": 4, "tickColor": "#000", "labelFontSize": 10, "labelPadding": 3, "titleFontSize": 11, "titlePadding": 10}
  }
}
